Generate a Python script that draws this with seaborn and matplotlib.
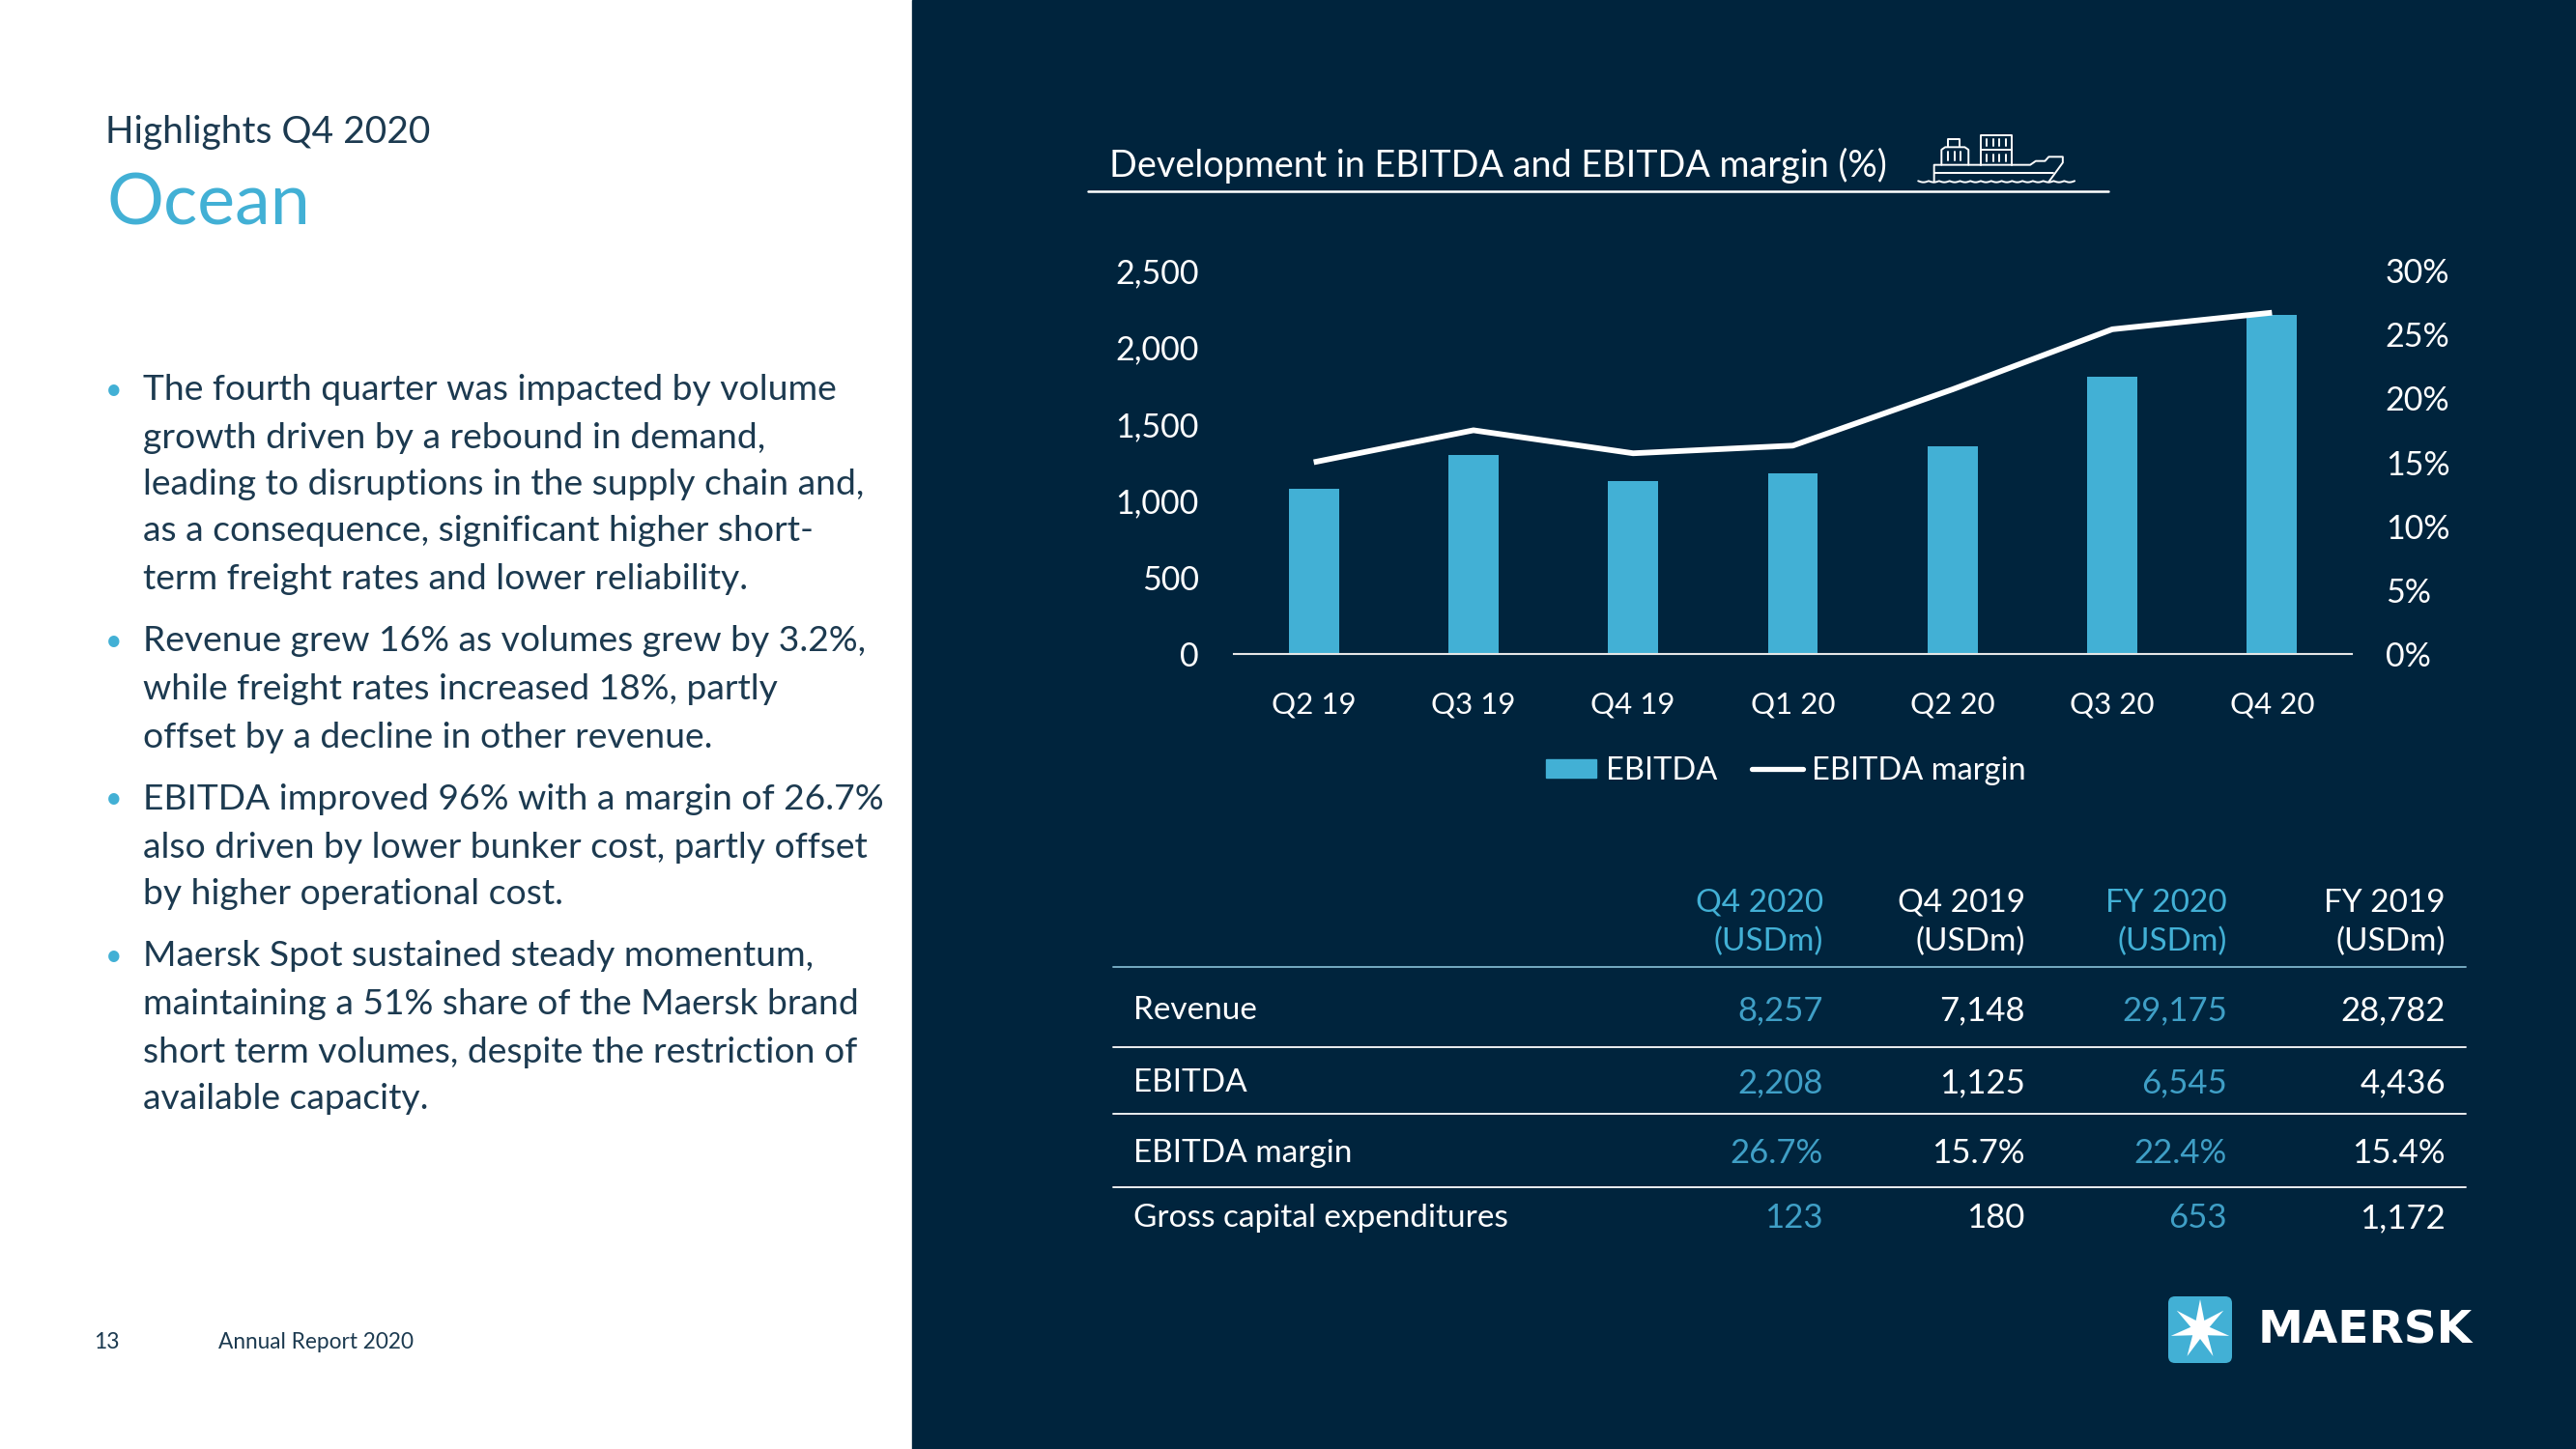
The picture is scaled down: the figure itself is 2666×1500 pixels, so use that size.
import numpy as np
import pandas as pd
import seaborn as sns
import matplotlib.pyplot as plt
from matplotlib.patches import Rectangle, FancyBboxPatch, Polygon
from matplotlib.lines import Line2D

# chart values
quarters = ['Q2 19', 'Q3 19', 'Q4 19', 'Q1 20', 'Q2 20', 'Q3 20', 'Q4 20']
ebitda = [1079, 1296, 1125, 1175, 1356, 1806, 2208]
margin = [15.0, 17.5, 15.7, 16.3, 20.7, 25.4, 26.7]
ebitda_ticks = [0, 500, 1000, 1500, 2000, 2500]
margin_ticks = [0, 5, 10, 15, 20, 25, 30]

# table values
table_rows = ['Revenue', 'EBITDA', 'EBITDA margin', 'Gross capital expenditures']
q4_2020 = ['8,257', '2,208', '26.7%', '123']
q4_2019 = ['7,148', '1,125', '15.7%', '180']
fy_2020 = ['29,175', '6,545', '22.4%', '653']
fy_2019 = ['28,782', '4,436', '15.4%', '1,172']
table_heads = ['Q4 2020', 'Q4 2019', 'FY 2020', 'FY 2019']

bullets = [
    ['The fourth quarter was impacted by volume', 'growth driven by a rebound in demand,',
     'leading to disruptions in the supply chain and,', 'as a consequence, significant higher short-',
     'term freight rates and lower reliability.'],
    ['Revenue grew 16% as volumes grew by 3.2%,', 'while freight rates increased 18%, partly',
     'offset by a decline in other revenue.'],
    ['EBITDA improved 96% with a margin of 26.7%', 'also driven by lower bunker cost, partly offset',
     'by higher operational cost.'],
    ['Maersk Spot sustained steady momentum,', 'maintaining a 51% share of the Maersk brand',
     'short term volumes, despite the restriction of', 'available capacity.'],
]
bullet_y = [
    [404, 453, 501, 550, 599],
    [664, 713, 763],
    [827, 877, 926],
    [990, 1040, 1089, 1137],
]

NAVY = '#00243d'
BLUE = '#42b0d5'
TABLE_BLUE = '#3f9fc6'
INK = '#1c3a50'
W, H = 2666, 1500

sns.set_theme(style='white')
plt.rcParams['font.family'] = ['Lato', 'DejaVu Sans']

fig = plt.figure(figsize=(W / 100, H / 100), dpi=100, facecolor='white')
fig.add_artist(Rectangle((944 / W, 0), 1 - 944 / W, 1, transform=fig.transFigure, color=NAVY, zorder=-5))

# bars and margin line
ax = fig.add_axes([1277 / W, 1 - 677 / H, (2434 - 1277) / W, (677 - 280) / H])
ax.patch.set_alpha(0)
df = pd.DataFrame({'quarter': quarters, 'ebitda': ebitda, 'margin': margin})
sns.barplot(data=df, x='quarter', y='ebitda', color=BLUE, saturation=1, width=0.314, linewidth=0, ax=ax)
ax.set_xlim(-0.5, 6.5)
ax.set_ylim(0, 2500)
ax.set_xlabel('')
ax.set_ylabel('')
ax.set_yticks(ebitda_ticks)
ax.set_yticklabels([f'{v:,}' for v in ebitda_ticks])
ax.tick_params(axis='y', length=0, pad=26, labelsize=24.5, labelcolor='white')
ax.tick_params(axis='x', length=0, pad=28, labelsize=22.5, labelcolor='white')
sns.despine(ax=ax, left=True, right=True, top=True)
ax.spines['bottom'].set_color('#e6e6e6')
ax.spines['bottom'].set_linewidth(1.5)

ax2 = ax.twinx()
ax2.patch.set_alpha(0)
sns.lineplot(data=df, x='quarter', y='margin', color='white', linewidth=4.2, sort=False, ax=ax2)
ax2.lines[0].set_solid_capstyle('butt')
ax2.set_ylim(0, 30)
ax2.set_ylabel('')
ax2.set_yticks(margin_ticks)
ax2.set_yticklabels([f'{v}%' for v in margin_ticks])
ax2.tick_params(axis='y', length=0, pad=25, labelsize=24.5, labelcolor='white')
for s in ax2.spines.values():
    s.set_visible(False)

handles = [Rectangle((0, 0), 1, 1, color=BLUE), Line2D([0], [0], color='white', lw=3.8)]
fig.legend(handles, ['EBITDA', 'EBITDA margin'], loc='center', bbox_to_anchor=(1848 / W, 1 - 798 / H),
           ncol=2, frameon=False, fontsize=23.5, labelcolor='white', handlelength=1.62, handleheight=0.55,
           handletextpad=0.28, columnspacing=1.1, borderpad=0)

# overlay in pixel coordinates for page furniture
pg = fig.add_axes([0, 0, 1, 1], zorder=10)
pg.set_xlim(0, W)
pg.set_ylim(H, 0)
pg.axis('off')
pg.patch.set_alpha(0)


def put(x, y, s, size, color='white', ha='left', **kw):
    pg.text(x, y, s, fontsize=size, color=color, ha=ha, va='center', **kw)


put(109, 137, 'Highlights Q4 2020', 28, INK)
put(110, 212, 'Ocean', 53, BLUE)
for lines, ys in zip(bullets, bullet_y):
    put(109, ys[0], '•', 22, BLUE)
    for line, y in zip(lines, ys):
        put(148, y, line, 26.8, INK)
put(97, 1390, '13', 16.5, INK)
put(226, 1390, 'Annual Report 2020', 16.3, INK)

put(1148, 171, 'Development in EBITDA and EBITDA margin (%)', 27.2)
pg.plot([1126, 2182], [198, 198], color='white', lw=1.8)


def ship(px, py, **kw):
    # icon points measured from the zoomed crop
    pg.plot(1950 + np.array(px) / 2.613, 120 + np.array(py) / 3, color='white', lw=1.4, solid_joinstyle='round', **kw)


ship([135, 135, 395, 410, 435, 445, 483, 483, 445], [205, 152, 152, 140, 140, 127, 127, 145, 205])
ship([135, 458], [177, 177])
ship([155, 155, 165, 218, 228, 228], [152, 105, 97, 97, 105, 152])
ship([172, 172, 205, 205], [97, 72, 72, 97])
ship([262, 262, 345, 345], [152, 60, 60, 152])
ship([262, 345], [105, 105])
for tx in [172, 190, 207]:
    ship([tx, tx], [112, 138])
for tx in [278, 295, 312, 328]:
    ship([tx, tx], [72, 94])
    ship([tx, tx], [120, 142])
wave_x = np.linspace(92, 515, 300)
ship(wave_x, 202 + 4 * np.abs(np.sin((wave_x - 92) / 28.2 * np.pi)))

# table
heads_x = [1887, 2096, 2305, 2531]
head_col = [BLUE, 'white', BLUE, 'white']
cols = [q4_2020, q4_2019, fy_2020, fy_2019]
val_col = [TABLE_BLUE, 'white', TABLE_BLUE, 'white']
row_y = [1046, 1121, 1194, 1261]
for x, h, c in zip(heads_x, table_heads, head_col):
    put(x, 935, h, 24, c, ha='right')
    put(x, 975, '(USDm)', 24, c, ha='right')
pg.plot([1152, 2552], [1001, 1001], color='#7fb6cc', lw=1.3)
for ly in [1084, 1153, 1229]:
    pg.plot([1152, 2552], [ly, ly], color='white', lw=1.3)
for label, y in zip(table_rows, row_y):
    put(1173, y, label, 24)
for x, col, c in zip(heads_x, cols, val_col):
    for v, y in zip(col, row_y):
        put(x, y, v, 25, c, ha='right')

# logo
pg.add_patch(FancyBboxPatch((2250, 1348), 54, 57, boxstyle='round,pad=6,rounding_size=7', color=BLUE, lw=0))
ang = np.pi / 2 + np.arange(14) * np.pi / 7
rad = np.where(np.arange(14) % 2 == 0, 31, 10)
pg.add_patch(Polygon(np.c_[2277 + rad * np.cos(ang), 1376 - rad * np.sin(ang)], color='white', lw=0))
pg.text(2337, 1378, 'MAERSK', fontsize=33.8, color='white', family='DejaVu Sans', weight='bold', ha='left', va='center')

fig.savefig('out.png', dpi=100)
